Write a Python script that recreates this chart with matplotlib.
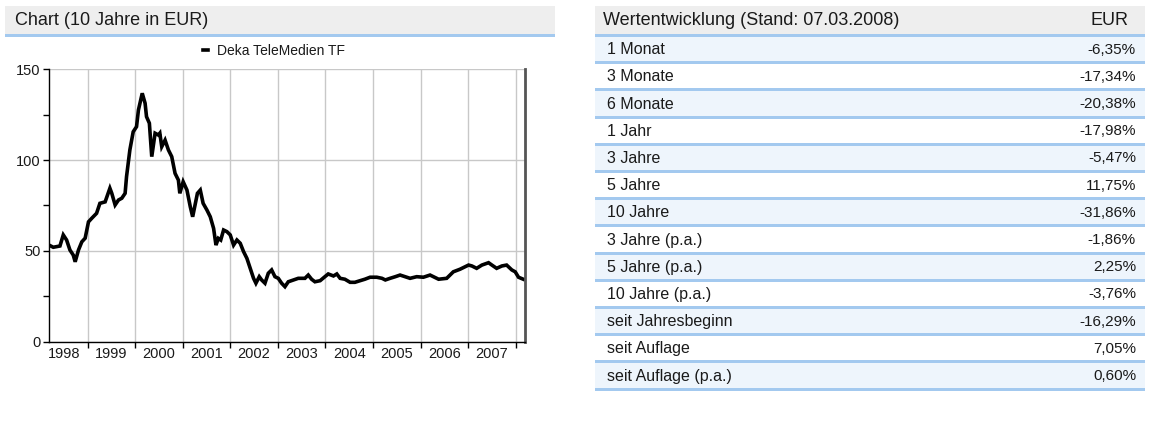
import matplotlib
matplotlib.use("Agg")
import matplotlib.pyplot as plt
from matplotlib.patches import Rectangle

plt.rcParams['font.family'] = ['Liberation Sans', 'DejaVu Sans']

# Kursverlauf Deka TeleMedien TF (Jahr als Dezimalzahl, Kurs in EUR)
jahre = [
    1998.19, 1998.28, 1998.42, 1998.49, 1998.56, 1998.63, 1998.70, 1998.74, 1998.81, 1998.88,
    1998.95, 1999.02, 1999.09, 1999.19, 1999.26, 1999.37, 1999.47, 1999.51, 1999.58, 1999.65,
    1999.72, 1999.79, 1999.82, 1999.89, 1999.96, 2000.03, 2000.07, 2000.15, 2000.21, 2000.24,
    2000.30, 2000.35, 2000.42, 2000.49, 2000.52, 2000.56, 2000.63, 2000.70, 2000.77, 2000.84,
    2000.91, 2000.94, 2001.01, 2001.09, 2001.16, 2001.21, 2001.31, 2001.37, 2001.43, 2001.51,
    2001.58, 2001.65, 2001.70, 2001.75, 2001.80, 2001.86, 2001.93, 2002.00, 2002.07, 2002.14,
    2002.21, 2002.28, 2002.35, 2002.42, 2002.49, 2002.54, 2002.61, 2002.66, 2002.73, 2002.80,
    2002.87, 2002.94, 2003.01, 2003.08, 2003.15, 2003.22, 2003.33, 2003.43, 2003.57, 2003.64,
    2003.71, 2003.78, 2003.89, 2003.99, 2004.06, 2004.17, 2004.24, 2004.31, 2004.41, 2004.52,
    2004.62, 2004.73, 2004.83, 2004.94, 2005.08, 2005.19, 2005.26, 2005.36, 2005.47, 2005.57,
    2005.78, 2005.92, 2006.06, 2006.20, 2006.38, 2006.55, 2006.69, 2006.83, 2007.01, 2007.08,
    2007.18, 2007.29, 2007.43, 2007.50, 2007.60, 2007.71, 2007.81, 2007.92, 2007.99, 2008.06,
    2008.16,
]
kurs = [
    53.2, 52.0, 52.7, 58.8, 56.0, 50.5, 47.7, 44.0, 50.5, 55.0,
    57.0, 66.0, 68.0, 70.7, 76.2, 77.0, 84.5, 81.7, 75.3, 78.0,
    79.0, 81.7, 90.9, 105.6, 115.6, 118.4, 127.6, 136.8, 131.3, 123.9,
    120.3, 101.9, 114.8, 113.8, 114.8, 107.4, 111.0, 105.6, 101.9, 92.7,
    89.0, 81.7, 88.1, 83.5, 74.3, 68.8, 81.7, 83.5, 76.2, 72.5,
    68.8, 62.4, 53.2, 56.9, 56.0, 61.5, 60.6, 58.8, 53.2, 56.0,
    54.2, 49.6, 45.9, 40.4, 34.9, 32.2, 35.8, 34.0, 32.2, 37.7,
    39.5, 35.8, 34.9, 32.2, 30.3, 33.0, 34.0, 34.9, 34.9, 36.7,
    34.4, 33.0, 33.6, 35.8, 37.3, 36.2, 37.3, 34.9, 34.4, 32.7,
    32.7, 33.6, 34.4, 35.5, 35.5, 34.9, 34.0, 34.9, 35.8, 36.7,
    34.9, 35.8, 35.5, 36.7, 34.4, 34.9, 38.5, 39.9, 42.2, 41.7,
    40.4, 42.2, 43.5, 42.2, 40.4, 41.7, 42.2, 39.5, 38.5, 35.5,
    34.4,
]
jahr_labels = ['1998', '1999', '2000', '2001', '2002', '2003', '2004', '2005', '2006', '2007']

tabelle_zeitraum = [
    '1 Monat', '3 Monate', '6 Monate', '1 Jahr', '3 Jahre', '5 Jahre', '10 Jahre',
    '3 Jahre (p.a.)', '5 Jahre (p.a.)', '10 Jahre (p.a.)', 'seit Jahresbeginn',
    'seit Auflage', 'seit Auflage (p.a.)',
]
tabelle_wert = [
    '-6,35%', '-17,34%', '-20,38%', '-17,98%', '-5,47%', '11,75%', '-31,86%',
    '-1,86%', '2,25%', '-3,76%', '-16,29%', '7,05%', '0,60%',
]

W, H = 1156, 428
grau_kopf = '#eeeeee'
blau_linie = '#a3c9ef'
blau_zeile = '#eef5fc'
text_farbe = '#1a1a1a'

fig = plt.figure(figsize=(W / 100, H / 100), dpi=100)

# Hintergrund-Ebene in Pixelkoordinaten
bg = fig.add_axes([0, 0, 1, 1])
bg.set_xlim(0, W)
bg.set_ylim(H, 0)
bg.axis('off')

# linker Kopf
bg.add_patch(Rectangle((5, 6), 550, 28, color=grau_kopf, lw=0))
bg.add_patch(Rectangle((5, 34), 550, 3, color=blau_linie, lw=0))
bg.text(15, 20.5, 'Chart (10 Jahre in EUR)', fontsize=13, color=text_farbe, va='center')

# rechte Tabelle
tx0, tw = 595, 550
bg.add_patch(Rectangle((tx0, 6), tw, 28, color=grau_kopf, lw=0))
bg.add_patch(Rectangle((tx0, 34), tw, 3, color=blau_linie, lw=0))
bg.text(603, 20.5, 'Wertentwicklung (Stand: 07.03.2008)', fontsize=13, color=text_farbe, va='center')
bg.text(1128, 20.5, 'EUR', fontsize=13, color=text_farbe, va='center', ha='right')

zh = 27.2
y0 = 37
for i, (name, wert) in enumerate(zip(tabelle_zeitraum, tabelle_wert)):
    top = y0 + i * zh
    if i % 2 == 0:
        bg.add_patch(Rectangle((tx0, top), tw, zh - 3, color=blau_zeile, lw=0))
    bg.add_patch(Rectangle((tx0, top + zh - 3), tw, 3, color=blau_linie, lw=0))
    cy = top + (zh - 3) / 2 + 0.5
    bg.text(607, cy, name, fontsize=11.5, color=text_farbe, va='center')
    bg.text(1136, cy, wert, fontsize=11, color=text_farbe, va='center', ha='right')

# Chart
left, right = 49, 524.7
top, bottom = 69.3, 341.7
ax = fig.add_axes([left / W, 1 - bottom / H, (right - left) / W, (bottom - top) / H])
ax.plot(jahre, kurs, color='black', lw=2.6, solid_joinstyle='miter', label='Deka TeleMedien TF')
ax.set_xlim(1998.19, 2008.19)
ax.set_ylim(0, 150)

ax.set_yticks([0, 50, 100, 150])
ax.set_yticks([25, 75, 125], minor=True)
ax.set_xticks(range(1999, 2009))
ax.set_xticks([j + 0.5 for j in range(1998, 2008)], minor=True)
ax.set_xticklabels([])
ax.set_xticklabels(jahr_labels, minor=True)
ax.tick_params(axis='x', which='major', length=4, width=1, direction='out', color='black')
ax.tick_params(axis='x', which='minor', length=0, pad=4, labelsize=10.5, labelcolor=text_farbe)
ax.tick_params(axis='y', which='both', length=4, width=1, direction='out', color='black',
               labelsize=10.5, labelcolor=text_farbe, pad=2)
ax.grid(True, which='major', color='#c8c8c8', lw=1)
ax.set_axisbelow(True)
ax.spines['top'].set_visible(False)
ax.spines['right'].set_color('#555555')
ax.spines['right'].set_linewidth(2)
for s in ['left', 'bottom']:
    ax.spines[s].set_color('black')
    ax.spines[s].set_linewidth(1)

fig.legend(loc='center', bbox_to_anchor=(274 / W, 1 - 51 / H), frameon=False,
           handlelength=0.35, handletextpad=0.7, fontsize=10, labelcolor=text_farbe)

fig.savefig('out.png', dpi=100)
